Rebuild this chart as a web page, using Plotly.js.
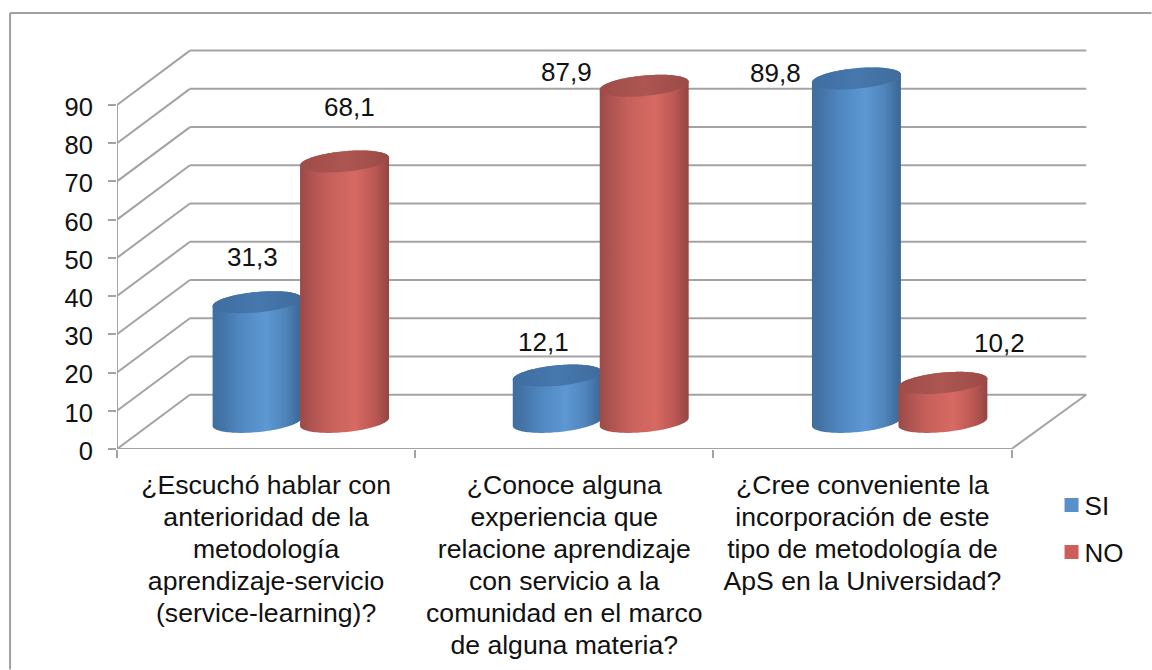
<!DOCTYPE html>
<html>
<head>
<meta charset="utf-8">
<script src="https://cdn.plot.ly/plotly-3.0.1.min.js"></script>
<style>html,body{margin:0;padding:0;background:#fff}#chart{width:1152px;height:670px}</style>
</head>
<body>
<div id="chart"></div>
<script>
// ---- data ----
const categories = [
  "¿Escuchó hablar con<br>anterioridad de la<br>metodología<br>aprendizaje-servicio<br>(service-learning)?",
  "¿Conoce alguna<br>experiencia que<br>relacione aprendizaje<br>con servicio a la<br>comunidad en el marco<br>de alguna materia?",
  "¿Cree conveniente la<br>incorporación de este<br>tipo de metodología de<br>ApS en la Universidad?"
];
const siValues = [31.3, 12.1, 89.8];
const noValues = [68.1, 87.9, 10.2];
const yTicks = [0, 10, 20, 30, 40, 50, 60, 70, 80, 90];

// ---- label nudges in pixels, relative to the top of each cylinder ----
const siLabelShift = [[-5, 45], [-14, 34], [-81, 6]];
const noLabelShift = [[5, 54], [-78, 14], [57, 40]];
// ---- small horizontal placement nudges of each cylinder, in pixels ----
const siNudge = [-1, 1, 2];
const noNudge = [-2.5, -1, -0.5];

// ---- styling and geometry ----
const FONT = "Liberation Sans, Arial, sans-serif";
const FS = 26;
const LINE_GAP = 32;
const GRID = "#a3a3a3";
const pxPerCat = 298.33, pxPerUnit = 3.826;
const L = 117, Y0 = 449.3, TOP = 20, XMAX = 3.3;
const W = XMAX * pxPerCat, H = Y0 - TOP;
const YMAX = H / pxPerUnit;
const depthX = 0.2445, depthY = 14.2;        // 3D offset from the front plane to the back wall
const halfW = 44.5 / pxPerCat;               // cylinder radius (x)
const ellB = 10.3 / pxPerUnit, ellTilt = 4 / pxPerUnit;
const catCenters = categories.map((_, i) => i + 0.5);

const SI_STOPS = [[0, "#3f6d9e"], [0.12, "#4475a8"], [0.3, "#4f86bf"], [0.6, "#5d98d3"], [0.82, "#4f84ba"], [1, "#3a6694"]];
const NO_STOPS = [[0, "#9a4a47"], [0.12, "#ad5350"], [0.32, "#c6605b"], [0.62, "#d76a63"], [0.84, "#bb5853"], [1, "#934543"]];
const SI_TOP = [[0, "#3f6d9f"], [0.5, "#4678ae"], [1, "#3f6c9c"]];
const NO_TOP = [[0, "#9e4c48"], [0.5, "#ad5652"], [1, "#9c4a46"]];

function ellipseArc(cx, cy, t0, t1, n) {
  const xs = [], ys = [];
  for (let k = 0; k <= n; k++) {
    const t = t0 + (t1 - t0) * k / n;
    xs.push(cx + halfW * Math.cos(t));
    ys.push(cy + ellB * Math.sin(t) + ellTilt * Math.cos(t));
  }
  return [xs, ys];
}
function cylinder(cx, v, stops, topStops) {
  const base = depthY / 2, top = base + v;
  const low = ellipseArc(cx, base, Math.PI, 2 * Math.PI, 60);   // front of base
  const up = ellipseArc(cx, top, 0, Math.PI, 60);               // back of top
  const common = {type: "scatter", mode: "none", fill: "toself", hoverinfo: "skip", showlegend: false};
  const body = Object.assign({}, common, {
    x: low[0].concat(up[0]), y: low[1].concat(up[1]),
    fillgradient: {type: "horizontal", colorscale: stops}
  });
  const cap = ellipseArc(cx, top, 0, 2 * Math.PI, 120);
  const lid = Object.assign({}, common, {
    x: cap[0], y: cap[1],
    fillgradient: {type: "horizontal", colorscale: topStops}
  });
  return [body, lid];
}

// ---- real bars carry the values and the legend; cylinders wrap them ----
const offset = depthX / 2;
const siX = catCenters.map((c, i) => c + offset - halfW + siNudge[i] / pxPerCat);
const noX = catCenters.map((c, i) => c + offset + halfW + noNudge[i] / pxPerCat);
function barTrace(name, xs, values, color, group) {
  return {
    type: "bar", name: name, legendgroup: group,
    x: xs, y: values, base: values.map(() => depthY / 2), width: 0.24,
    marker: {color: color, line: {color: color, width: 2}},
    hovertemplate: name + ": %{y}<extra></extra>"
  };
}
const traces = [barTrace("SI", siX, siValues, "#5b8fc9", "a"), barTrace("NO", noX, noValues, "#cd5f5a", "b")];
catCenters.forEach((c, i) => {
  cylinder(siX[i], siValues[i], SI_STOPS, SI_TOP).forEach(t => traces.push(t));
  cylinder(noX[i], noValues[i], NO_STOPS, NO_TOP).forEach(t => traces.push(t));
});

// ---- 3D frame ----
const shapes = [];
const ln = {color: GRID, width: 2};
yTicks.forEach(v => {
  shapes.push({type: "line", layer: "below", xref: "x", yref: "y", x0: depthX, x1: 3 + depthX + 0.006, y0: v + depthY, y1: v + depthY, line: ln});
  shapes.push({type: "line", layer: "below", xref: "x", yref: "y", x0: 0, x1: depthX, y0: v, y1: v + depthY, line: ln});
});
shapes.push({type: "line", layer: "below", xref: "x", yref: "y", x0: 0, x1: 0, y0: 0, y1: 90, line: ln});
shapes.push({type: "line", layer: "below", xref: "x", yref: "y", x0: 0, x1: 3, y0: 0, y1: 0, line: ln});
shapes.push({type: "line", layer: "below", xref: "x", yref: "y", x0: 3, x1: 3 + depthX + 0.006, y0: 0, y1: depthY, line: ln});
// outer chart frame
const paperX = px => (px - L) / W, paperY = py => (Y0 - py) / H;
const frame = {color: "#a0a0a0", width: 2};
shapes.push({type: "line", xref: "paper", yref: "paper", x0: paperX(10), x1: paperX(10), y0: paperY(13), y1: paperY(670), line: frame});
shapes.push({type: "line", xref: "paper", yref: "paper", x0: paperX(10), x1: paperX(1152), y0: paperY(13), y1: paperY(13), line: frame});

// ---- value labels ----
const fmt = v => String(v).replace(".", ",");
const annotations = [];
function addLabels(xs, values, shifts) {
  values.forEach((v, i) => annotations.push({
    x: xs[i], y: v + depthY / 2,
    text: fmt(v), showarrow: false, xanchor: "center", yanchor: "middle",
    xshift: shifts[i][0], yshift: shifts[i][1],
    font: {family: FONT, size: FS, color: "#111"}
  }));
}
addLabels(siX, siValues, siLabelShift);
addLabels(noX, noValues, noLabelShift);

const layout = {
  width: 1152, height: 670, autosize: false,
  paper_bgcolor: "#fff", plot_bgcolor: "rgba(0,0,0,0)",
  margin: {l: L, r: 1152 - L - W, t: TOP, b: 670 - Y0, pad: 0, autoexpand: false},
  barmode: "overlay", bargap: 0,
  font: {family: FONT, size: FS, color: "#111"},
  xaxis: {
    range: [0, XMAX], showgrid: false, zeroline: false, showline: false, fixedrange: true,
    tickmode: "array", tickvals: catCenters, ticktext: categories, ticks: "",
    tickangle: 0, ticklabelstandoff: 17,
    tickfont: {family: FONT, size: 26.6, color: "#111"},
    minor: {tickmode: "array", tickvals: [0, 1, 2, 3], ticks: "outside", ticklen: 8, tickwidth: 2, tickcolor: GRID, showgrid: false}
  },
  yaxis: {
    range: [0, YMAX], showgrid: false, zeroline: false, showline: false, fixedrange: true,
    tickmode: "array", tickvals: yTicks, ticks: "outside", ticklen: 8, tickwidth: 2, tickcolor: GRID,
    ticklabelstandoff: 10,
    tickfont: {family: FONT, size: 25.5, color: "#111"}
  },
  legend: {
    x: paperX(1052), y: paperY(482), xanchor: "left", yanchor: "top",
    tracegroupgap: 10, bgcolor: "rgba(0,0,0,0)",
    font: {family: FONT, size: FS, color: "#111"}
  },
  shapes: shapes, annotations: annotations
};
Plotly.newPlot("chart", traces, layout, {displayModeBar: false, staticPlot: true}).then(() => {
  // the reference has tighter line spacing than Plotly's fixed 1.3em
  document.querySelectorAll(".xtick text").forEach(t => {
    t.querySelectorAll("tspan.line").forEach((s, i) => s.setAttribute("dy", (i * LINE_GAP) + "px"));
  });
  // value-axis labels sit slightly lower in the reference
  document.querySelectorAll(".ytick text").forEach(t => {
    t.setAttribute("y", parseFloat(t.getAttribute("y") || 0) + 2);
  });
  // and a tighter gap between legend swatch and legend text
  document.querySelectorAll(".legendtext").forEach(t => {
    t.setAttribute("x", parseFloat(t.getAttribute("x")) - 7);
  });
});
</script>
</body>
</html>
